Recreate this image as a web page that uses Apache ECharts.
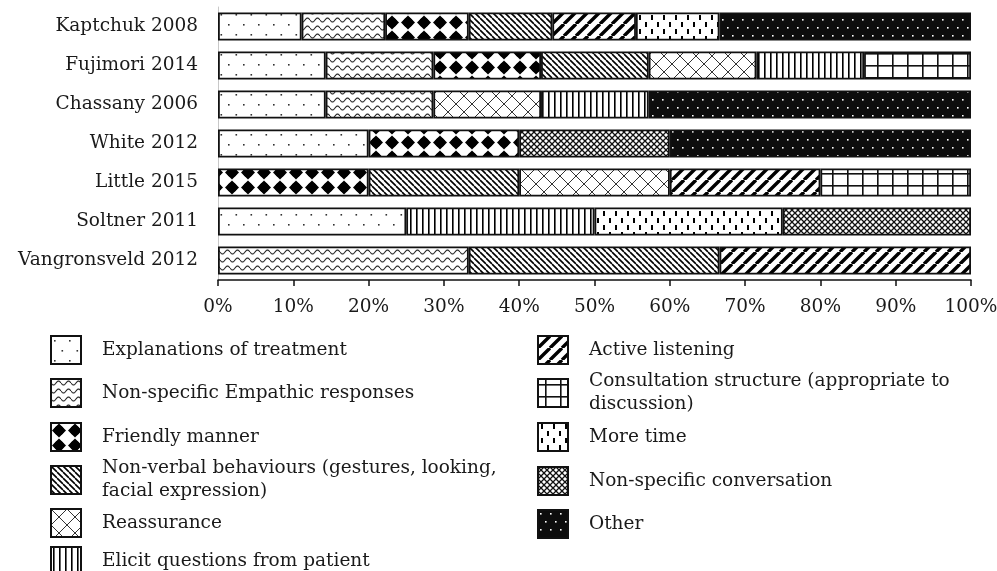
<!DOCTYPE html>
<html><head><meta charset="utf-8">
<script src="https://cdn.jsdelivr.net/npm/echarts@6/dist/echarts.min.js"></script>
<style>html,body{margin:0;padding:0;background:#fff;overflow:hidden}#c{width:997px;height:571px}</style>
</head><body><div id="c"></div>
<script>
const categories = ['Kaptchuk 2008','Fujimori 2014','Chassany 2006','White 2012','Little 2015','Soltner 2011','Vangronsveld 2012'];
const tickValues = [0,10,20,30,40,50,60,70,80,90,100];
const seriesNames = ['Explanations of treatment','Non-specific Empathic responses','Friendly manner','Non-verbal behaviours (gestures, looking, facial expression)','Reassurance','Elicit questions from patient','Active listening','Consultation structure (appropriate to discussion)','More time','Non-specific conversation','Other'];
const explanations  = [11.1, 14.3, 14.3, 20, null, 25, null];
const empathic      = [11.1, 14.3, 14.3, null, null, null, 33.3];
const friendly      = [11.1, 14.3, null, 20, 20, null, null];
const nonVerbal     = [11.1, 14.3, null, null, 20, null, 33.3];
const reassurance   = [null, 14.3, 14.3, null, 20, null, null];
const elicit        = [null, 14.3, 14.3, null, null, 25, null];
const activeListen  = [11.1, null, null, null, 20, null, 33.4];
const consultation  = [null, 14.2, null, null, 20, null, null];
const moreTime      = [11.1, null, null, null, null, 25, null];
const nonSpecConv   = [null, null, null, 20, null, 25, null];
const other         = [33.4, null, 42.8, 40, null, null, null];
const seriesValues = [explanations, empathic, friendly, nonVerbal, reassurance, elicit, activeListen, consultation, moreTime, nonSpecConv, other];

function mk(w, h, bg, draw) {
  const c = document.createElement('canvas');
  c.width = w; c.height = h;
  const g = c.getContext('2d');
  g.fillStyle = bg; g.fillRect(0, 0, w, h);
  draw(g);
  return { image: c, repeat: 'repeat' };
}
const patterns = [
  mk(15, 20, '#fff', g => { g.fillStyle = '#333'; g.fillRect(3, 4, 1.6, 1.6); g.fillRect(10.5, 14, 1.6, 1.6); }),
  mk(10, 8, '#fff', g => { g.strokeStyle = '#222'; g.lineWidth = 1.1; g.beginPath();
      for (let x = 0; x <= 10; x += 0.5) { const y = 4 + 2 * Math.sin(2 * Math.PI * x / 10); if (x === 0) g.moveTo(x, y); else g.lineTo(x, y); }
      g.stroke(); }),
  mk(16, 15, '#fff', g => { g.fillStyle = '#000'; g.beginPath(); g.moveTo(8, 0.5); g.lineTo(15, 7.5); g.lineTo(8, 14.5); g.lineTo(1, 7.5); g.closePath(); g.fill();
      g.beginPath(); g.arc(8, 7.5, 5, 0, Math.PI * 2); g.fill(); }),
  mk(6, 6, '#fff', g => { g.strokeStyle = '#000'; g.lineWidth = 1.6; g.beginPath();
      for (const o of [-6, 0, 6]) { g.moveTo(o, 0); g.lineTo(o + 6, 6); } g.stroke(); }),
  mk(16, 16, '#fff', g => { g.strokeStyle = '#333'; g.lineWidth = 1; g.beginPath();
      g.moveTo(0, 0); g.lineTo(16, 16); g.moveTo(16, 0); g.lineTo(0, 16); g.stroke(); }),
  mk(6, 6, '#fff', g => { g.fillStyle = '#000'; g.fillRect(2, 0, 1.6, 6); }),
  mk(12, 12, '#fff', g => { g.strokeStyle = '#000'; g.lineWidth = 3.4; g.beginPath();
      for (const o of [-12, 0, 12]) { g.moveTo(o, 12); g.lineTo(o + 12, 0); } g.stroke(); }),
  mk(15, 12, '#fff', g => { g.fillStyle = '#111'; g.fillRect(7, 0, 1.6, 12); g.fillRect(0, 5, 15, 1.6); }),
  mk(12, 14, '#fff', g => { g.fillStyle = '#000'; g.fillRect(3, 1, 2, 5); g.fillRect(9, 8, 2, 5); }),
  mk(6, 6, '#fff', g => { g.strokeStyle = '#111'; g.lineWidth = 1.3; g.beginPath();
      g.moveTo(0, 0); g.lineTo(6, 6); g.moveTo(6, 0); g.lineTo(0, 6); g.stroke(); }),
  mk(10, 16, '#0d0d0d', g => { g.fillStyle = '#fff'; g.fillRect(2, 3, 1.6, 1.6); g.fillRect(7, 11, 1.6, 1.6); })
];

const FONT = 'DejaVu Serif';
const FS = 18.5;
const wrapText = {
  'Non-verbal behaviours (gestures, looking, facial expression)': 'Non-verbal behaviours (gestures, looking,\nfacial expression)',
  'Consultation structure (appropriate to discussion)': 'Consultation structure (appropriate to\ndiscussion)'
};
// legend layout: [left, centerY]
const legendPos = [[50,349],[50,392],[50,436],[50,480],[50,522],[50,560],[537,349],[537,393],[537,436],[537,480],[537,523]];
const LH = 23;
const legends = seriesNames.map((n, i) => {
  const lines = (wrapText[n] || n).split('\n').length;
  const h = Math.max(28, lines * LH);
  return {
    data: [n], left: legendPos[i][0], top: legendPos[i][1] - h / 2,
    itemWidth: 30, itemHeight: 28, icon: 'rect', padding: 0,
    selectedMode: false,
    formatter: name => wrapText[name] || name,
    textStyle: { fontFamily: FONT, fontSize: FS, color: '#1a1a1a', lineHeight: LH, padding: [0, 0, 0, 16] }
  };
});

const chart = echarts.init(document.getElementById('c'), null, { renderer: 'canvas' });
chart.setOption({
  animation: false,
  backgroundColor: '#fff',
  grid: { left: 218, right: 26, top: 7, bottom: 291, containLabel: false, outerBoundsMode: 'none' },
  legend: legends,
  xAxis: {
    type: 'value', min: tickValues[0], max: tickValues[tickValues.length - 1], interval: 10,
    axisLine: { show: true, lineStyle: { color: '#111', width: 1.5 } },
    axisTick: { show: true, length: 6, lineStyle: { color: '#111', width: 1.5 } },
    splitLine: { show: false },
    axisLabel: { formatter: '{value}%', fontFamily: FONT, fontSize: FS, color: '#1a1a1a', margin: 18 }
  },
  yAxis: {
    type: 'category', data: categories, inverse: true,
    axisLine: { show: true, lineStyle: { color: '#c8c8c8', width: 1 } },
    axisTick: { show: false },
    axisLabel: { fontFamily: FONT, fontSize: FS, color: '#1a1a1a', margin: 20 }
  },
  series: seriesNames.map((n, i) => ({
    name: n, type: 'bar', stack: 'total', barWidth: 28,
    data: seriesValues[i],
    itemStyle: { color: patterns[i], borderColor: '#111', borderWidth: 1.8 },
    emphasis: { disabled: true }
  }))
});
</script></body></html>
